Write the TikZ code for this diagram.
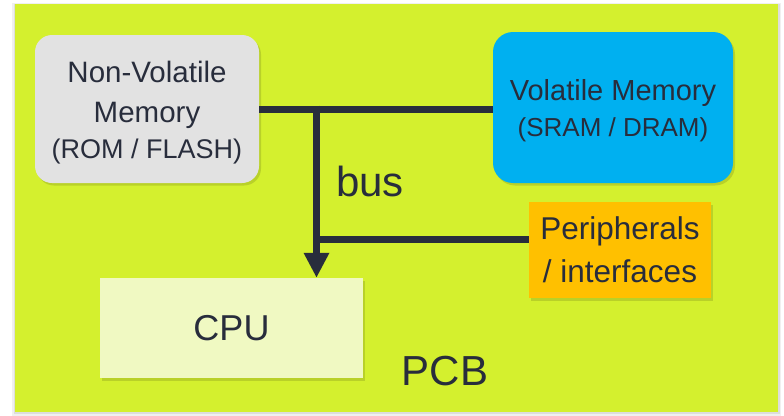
\documentclass[tikz,border=0pt]{standalone}
\usepackage{fontspec}
\setmainfont{Liberation Sans}
\usetikzlibrary{arrows.meta,shadows}
\definecolor{board}{RGB}{212,240,46}
\definecolor{nvfill}{RGB}{226,226,226}
\definecolor{vmfill}{RGB}{0,176,240}
\definecolor{perfill}{RGB}{255,192,0}
\definecolor{cpufill}{RGB}{240,249,194}
\definecolor{txt}{RGB}{40,45,60}
\definecolor{shade}{RGB}{90,100,20}
\tikzset{
  boxbase/.style={draw=none, text=txt, align=center, inner sep=0pt,
    drop shadow={shadow xshift=2pt, shadow yshift=-2.5pt, opacity=0.22, fill=shade}},
  busline/.style={draw=txt, line width=7pt},
}
\newcommand{\smalltxt}{\fontsize{27}{35}\selectfont}
\begin{document}
\begin{tikzpicture}[x=1pt,y=-1pt]
\useasboundingbox (0,0) rectangle (784,415);
% board shadow
\fill[black,opacity=0.06] (12,3) rectangle (781,416);
\fill[black,opacity=0.08] (14,4) rectangle (780,414);
\node[fill=board, minimum width=763pt, minimum height=408pt, inner sep=0pt, anchor=north west] (pcb) at (15,4) {};
\node[boxbase, fill=nvfill, rounded corners=17pt, minimum width=224pt, minimum height=148pt,
  font=\fontsize{29.5}{40}\selectfont] (nv) at (147,109)
  {\rule{0pt}{29pt}Non-Volatile\\Memory\\[-4pt]{\smalltxt (ROM / FLASH)}};
\node[boxbase, fill=vmfill, rounded corners=20pt, minimum width=240pt, minimum height=151pt,
  font=\fontsize{29}{37}\selectfont] (vm) at (613,107.5)
  {\rule{0pt}{27pt}Volatile Memory\\[-1pt]{\fontsize{26}{35}\selectfont (SRAM / DRAM)}};
\node[boxbase, fill=perfill, minimum width=182pt, minimum height=96pt,
  font=\fontsize{31.5}{43}\selectfont] (per) at (620,250)
  {Peripherals\\/ interfaces};
\node[boxbase, fill=cpufill, minimum width=263pt, minimum height=100pt,
  font=\fontsize{36}{40}\selectfont] (cpu) at (231.5,328) {CPU};
\coordinate (j1) at (316.5,109);
\coordinate (j2) at (316.5,239);
\draw[busline] (nv.east |- j1) -- (j1) -- (j1 -| vm.west);
\draw[busline] (j2) -- (j2 -| per.west);
\draw[busline, -{Triangle[width=24pt,length=25pt]}] ([yshift=3.5pt]j1) -- (j1 |- cpu.north);
\node[text=txt, anchor=base, inner sep=0pt, font=\fontsize{42}{48}\selectfont] (bus) at (370,196) {bus};
\node[text=txt, anchor=base, inner sep=0pt, font=\fontsize{42}{48}\selectfont] (pcblabel) at (445,385) {PCB};
\end{tikzpicture}
\end{document}
